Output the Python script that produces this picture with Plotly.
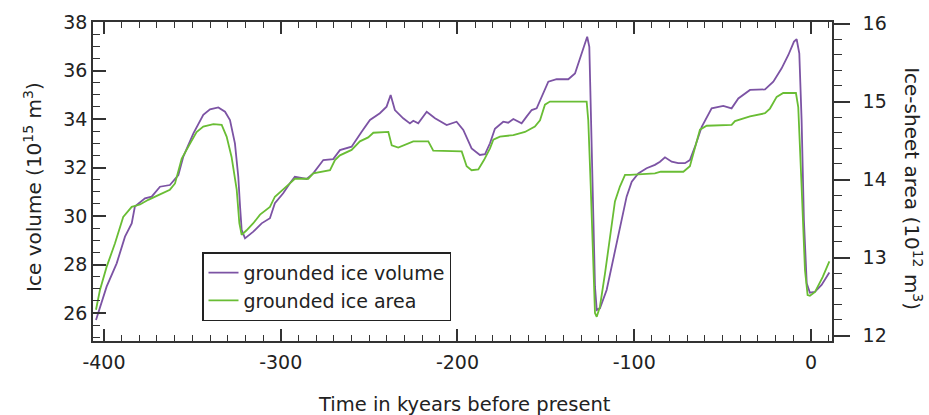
import plotly.graph_objects as go

# Grounded ice volume (10^15 m^3) versus time (kyr before present)
vol_time = [-404.5, -398.5, -392.8, -388.1, -384.3, -382.5, -376.8, -373.0, -368.3, -362.7,
            -357.9, -355.1, -349.4, -343.8, -340.0, -335.3, -331.5, -328.7, -325.9, -324.0,
            -323.0, -322.1, -320.2, -315.5, -310.8, -306.1, -303.3, -298.6, -294.8, -292.0,
            -285.3, -281.6, -275.9, -270.3, -266.5, -259.9, -254.2, -249.5, -243.9, -240.1,
            -237.8, -235.4, -230.7, -226.9, -225.0, -222.2, -217.4, -212.7, -206.1, -200.5,
            -196.7, -192.0, -187.3, -184.4, -181.6, -178.8, -174.1, -171.3, -168.4, -163.7,
            -160.9, -158.0, -155.2, -151.5, -148.6, -143.9, -137.3, -133.5, -130.7, -127.9,
            -126.6, -125.4, -124.5, -123.2, -122.2, -121.2, -119.4, -115.6, -111.9, -108.1,
            -104.3, -101.4, -97.7, -93.0, -88.3, -85.4, -82.6, -78.8, -75.1, -71.3,
            -68.5, -65.6, -61.8, -56.2, -49.6, -44.9, -41.1, -34.5, -26.0, -21.3,
            -16.6, -12.8, -9.6, -8.1, -6.6, -5.3, -4.0, -2.4, -0.6, 2.3, 6.0, 10.4]
ice_volume = [25.72, 27.09, 28.05, 29.15, 29.70, 30.39, 30.73, 30.80, 31.21, 31.28,
              31.69, 32.45, 33.41, 34.17, 34.40, 34.48, 34.30, 33.96, 33.00, 31.62,
              30.39, 29.43, 29.08, 29.36, 29.70, 29.91, 30.53, 30.94, 31.35, 31.62,
              31.53, 31.76, 32.31, 32.35, 32.72, 32.86, 33.48, 33.96, 34.24, 34.51,
              34.99, 34.37, 34.03, 33.82, 33.93, 33.82, 34.30, 34.03, 33.75, 33.89,
              33.55, 32.79, 32.52, 32.55, 33.00, 33.60, 33.89, 33.85, 34.00, 33.82,
              34.10, 34.37, 34.44, 35.06, 35.54, 35.64, 35.64, 35.88, 36.50, 37.19,
              37.39, 36.98, 33.96, 29.84, 27.09, 26.13, 26.20, 26.95, 28.19, 29.56,
              30.80, 31.42, 31.76, 31.97, 32.11, 32.24, 32.42, 32.24, 32.18, 32.18,
              32.31, 32.86, 33.68, 34.44, 34.54, 34.44, 34.85, 35.20, 35.22, 35.54,
              36.09, 36.64, 37.19, 37.29, 36.71, 33.96, 29.84, 27.23, 26.84, 26.88, 27.16, 27.67]

# Grounded ice-sheet area (10^12 m^2) versus time
area_time = [-404.5, -402.3, -398.5, -393.8, -389.1, -384.3, -379.6, -374.9, -369.2, -362.7,
             -359.8, -356.0, -351.3, -347.6, -343.8, -338.1, -333.4, -330.6, -327.8, -324.9,
             -323.4, -322.1, -319.3, -315.5, -311.7, -306.1, -303.3, -298.6, -294.8, -292.0,
             -284.4, -281.6, -272.1, -269.3, -266.5, -259.9, -255.2, -250.5, -247.6, -239.1,
             -237.2, -233.5, -225.0, -216.5, -213.7, -197.6, -194.8, -192.0, -188.2, -185.0,
             -181.6, -179.7, -176.0, -168.4, -161.8, -156.2, -153.3, -150.5, -147.7, -126.9,
             -126.0, -124.6, -123.2, -122.2, -121.2, -119.4, -116.5, -113.7, -110.9, -108.1,
             -105.2, -102.4, -88.3, -85.0, -72.2, -68.5, -65.6, -62.8, -59.0, -44.9,
             -43.0, -34.5, -26.0, -23.2, -19.4, -15.7, -8.5, -7.2, -5.3, -3.4,
             -1.9, -0.6, 2.3, 6.6, 10.4]
ice_area = [12.33, 12.58, 12.88, 13.18, 13.52, 13.65, 13.68, 13.74, 13.80, 13.87,
            13.95, 14.27, 14.46, 14.61, 14.68, 14.71, 14.70, 14.55, 14.29, 13.87,
            13.44, 13.29, 13.35, 13.44, 13.55, 13.65, 13.78, 13.87, 13.95, 14.01,
            14.01, 14.08, 14.12, 14.25, 14.31, 14.38, 14.49, 14.54, 14.60, 14.61,
            14.44, 14.41, 14.49, 14.49, 14.37, 14.36, 14.17, 14.12, 14.13, 14.25,
            14.40, 14.51, 14.55, 14.57, 14.61, 14.68, 14.76, 14.96, 15.00, 15.00,
            14.76, 13.91, 12.84, 12.29, 12.24, 12.37, 12.80, 13.27, 13.72, 13.91,
            14.06, 14.06, 14.08, 14.10, 14.10, 14.17, 14.42, 14.64, 14.69, 14.70,
            14.75, 14.81, 14.85, 14.91, 15.06, 15.11, 15.11, 14.93, 13.91, 12.84,
            12.52, 12.51, 12.56, 12.75, 12.95]

# Time axis tick positions and their labels (plain hyphen minus)
time_ticks = [-400, -300, -200, -100, 0]
time_tick_labels = ["-400", "-300", "-200", "-100", "0"]

series_names = ["grounded ice volume", "grounded ice area"]
x_title = "Time in kyears before present"
y_title = "Ice volume (10<sup>15</sup> m<sup>3</sup>)"
y2_title = "Ice-sheet area (10<sup>12</sup> m<sup>3</sup>)"

PURPLE = "#7c53a4"
GREEN = "#69bd34"
AXIS = "#333333"
TEXT = "#222222"
FONT = "DejaVu Sans"

fig = go.Figure()
fig.add_trace(go.Scatter(x=vol_time, y=ice_volume, mode="lines", name=series_names[0],
                         line=dict(color=PURPLE, width=1.8), yaxis="y"))
fig.add_trace(go.Scatter(x=area_time, y=ice_area, mode="lines", name=series_names[1],
                         line=dict(color=GREEN, width=1.8), yaxis="y2"))

fig.update_layout(
    width=929, height=415,
    margin=dict(l=93, r=97, t=22, b=74),
    paper_bgcolor="white", plot_bgcolor="white",
    font=dict(family=FONT, size=19, color=TEXT),
    showlegend=True,
    legend=dict(x=0.1475, y=0.278, xanchor="left", yanchor="top",
                bgcolor="white", bordercolor="#222222", borderwidth=1.5,
                font=dict(size=19), tracegroupgap=0),
    xaxis=dict(range=[-406.2, 11.9], tickmode="array", tickvals=time_ticks,
               ticktext=time_tick_labels, ticks="inside", ticklen=12,
               tickwidth=1.5, tickcolor=AXIS, showline=True, linecolor=AXIS, linewidth=1.5,
               mirror="ticks", showgrid=False, zeroline=False, ticklabelstandoff=3,
               minor=dict(tickmode="linear", tick0=0, dtick=10, ticks="inside", ticklen=6,
                          tickwidth=1.2, tickcolor=AXIS, showgrid=False)),
    yaxis=dict(range=[24.85, 38.0], tick0=0, dtick=2, ticks="inside", ticklen=13,
               tickwidth=1.5, tickcolor=AXIS, showline=True, linecolor=AXIS, linewidth=1.5,
               showgrid=False, zeroline=False,
               minor=dict(dtick=0.5, ticks="inside", ticklen=7, tickwidth=1.2, tickcolor=AXIS,
                          showgrid=False)),
    yaxis2=dict(range=[11.93, 16.02], overlaying="y", side="right", tick0=0, dtick=1,
                ticks="outside", ticklen=16, tickwidth=1.5, tickcolor=AXIS, showline=True,
                linecolor=AXIS, linewidth=1.5, showgrid=False, zeroline=False,
                ticklabelstandoff=9,
                minor=dict(dtick=0.2, ticks="outside", ticklen=8, tickwidth=1.2,
                           tickcolor=AXIS, showgrid=False)),
    annotations=[
        dict(text=x_title, xref="paper", yref="paper", x=0.503, y=-0.1975,
             xanchor="center", yanchor="middle", showarrow=False,
             font=dict(size=19.5, color=TEXT)),
        dict(text=y_title, xref="paper", yref="paper", x=-0.0812, y=0.483,
             xanchor="center", yanchor="middle", textangle=-90, showarrow=False,
             font=dict(size=20, color=TEXT)),
        dict(text=y2_title, xref="paper", yref="paper", x=1.1096, y=0.476,
             xanchor="center", yanchor="middle", textangle=90, showarrow=False,
             font=dict(size=20, color=TEXT)),
    ],
)

fig.write_html("out.html")
